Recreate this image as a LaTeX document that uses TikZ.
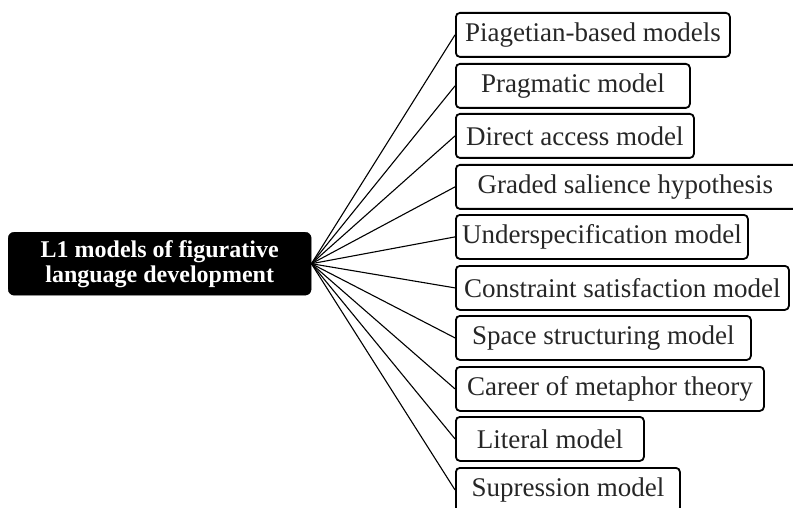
\documentclass[tikz,border=0pt]{standalone}
\usepackage{fontspec}
\setmainfont{Liberation Serif}
\begin{document}
\begin{tikzpicture}[x=1pt,y=1pt,
  leaf/.style={draw=black, line width=1.8pt, rounded corners=4pt, anchor=north west,
    minimum height=44pt, inner sep=0pt, font=\fontsize{27}{31}\selectfont, text=black!85},
  rootbox/.style={fill=black, draw=black, rounded corners=6pt, anchor=north west,
    minimum width=303pt, minimum height=63pt, inner sep=0pt, text=white,
    font=\bfseries\fontsize{24}{25}\selectfont, align=center},
  conn/.style={line width=1.1pt, black}]
\useasboundingbox (0,0) rectangle (793,-508);
\node[rootbox] (root) at (8,-232) {L1 models of figurative\\language development};
\node[leaf, minimum width=274pt] (b1) at (455,-12) {Piagetian-based models};
\node[leaf, minimum width=234pt] (b2) at (455,-63) {Pragmatic model};
\node[leaf, minimum width=238pt] (b3) at (455,-113) {Direct access model};
\node[leaf, minimum width=345pt] (b4) at (455,-164) {\hspace*{-6pt}Graded salience hypothesis};
\node[leaf, minimum width=292pt] (b5) at (455,-214) {Underspecification model};
\node[leaf, minimum width=333pt] (b6) at (455,-265) {Constraint satisfaction model};
\node[leaf, minimum width=295pt] (b7) at (455,-315) {Space structuring model};
\node[leaf, minimum width=308pt] (b8) at (455,-366) {Career of metaphor theory};
\node[leaf, minimum width=188pt] (b9) at (455,-416) {Literal model};
\node[leaf, minimum width=224pt] (b10) at (455,-467) {Supression model};
\foreach \i in {1,...,10} \draw[conn] (root.east) -- (b\i.west);
\end{tikzpicture}
\end{document}
